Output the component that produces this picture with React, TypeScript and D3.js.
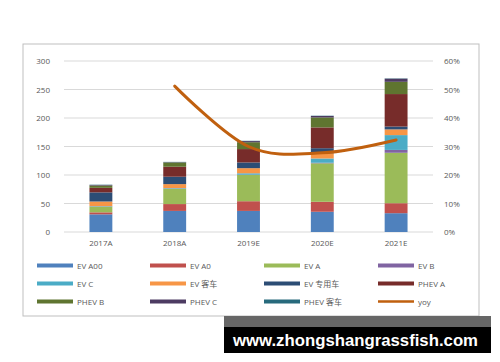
import React from "react";
import * as d3 from "d3";

const categories = ["2017A", "2018A", "2019E", "2020E", "2021E"];
const seriesNames = ["EV A00", "EV A0", "EV A", "EV B", "EV C", "EV 客车", "EV 专用车", "PHEV A", "PHEV B", "PHEV C", "PHEV 客车"];
const evA00 = [31, 37, 37, 35.5, 33];
const evA0 = [3.5, 12, 17, 17.5, 17.5];
const evA = [10, 26.5, 46, 67.5, 88.5];
const evB = [0.5, 0.5, 0.5, 1, 5];
const evC = [0.5, 1, 2.5, 7.5, 26];
const evBus = [8, 7, 9, 9, 10];
const evSpecial = [16, 13, 10, 9, 5];
const phevA = [8, 17.5, 23.5, 36.5, 57];
const phevB = [4, 7.5, 12, 17.5, 21.5];
const phevC = [1, 0.5, 2, 2.5, 5.5];
const phevBus = [0.5, 0.5, 0.5, 0.5, 0.5];
const yoy: (number | null)[] = [null, 0.512, 0.30, 0.278, 0.323];
const leftTicks = [0, 50, 100, 150, 200, 250, 300];
const rightTicks = [0, 0.1, 0.2, 0.3, 0.4, 0.5, 0.6];

const seriesValues = [evA00, evA0, evA, evB, evC, evBus, evSpecial, phevA, phevB, phevC, phevBus];
const colors = ["#4F81BD", "#C0504D", "#9BBB59", "#8064A2", "#4BACC6", "#F79646", "#2C4D75", "#772C2A", "#5F7530", "#4D3B62", "#276A7C"];
const yoyColor = "#C0600F";
const FONT = "'Open Sans', 'Noto Sans CJK SC', sans-serif";
const TXT = "#595959";

export default function App() {
  const x = d3.scaleBand().domain(categories).range([64, 433]).paddingInner(0.69).paddingOuter(0.345);
  const yL = d3.scaleLinear().domain([0, 300]).range([232, 61]);
  const yR = d3.scaleLinear().domain([0, 0.6]).range([232, 61]);

  const table = categories.map((c, i) => {
    const row: any = { cat: c };
    seriesNames.forEach((s, k) => (row[s] = seriesValues[k][i]));
    return row;
  });
  const stacked = d3.stack().keys(seriesNames)(table);

  const cx = (c: string) => (x(c) as number) + x.bandwidth() / 2;
  const linePts = categories
    .map((c, i) => ({ c, v: yoy[i] }))
    .filter((d) => d.v !== null) as { c: string; v: number }[];
  const line = d3
    .line<{ c: string; v: number }>()
    .x((d) => cx(d.c))
    .y((d) => yR(d.v))
    .curve(d3.curveCatmullRom.alpha(0));

  const legendItems = [...seriesNames.map((s, k) => ({ name: s, color: colors[k], line: false })), { name: "yoy", color: yoyColor, line: true }];
  const colX = [37, 150, 264, 378];
  const rowY = [265.5, 283.5, 301.5];

  return (
    <svg width={500} height={362} style={{ position: "absolute", left: 0, top: 0, background: "#fff" }} fontFamily={FONT}>
      <rect x={0} y={0} width={500} height={362} fill="#fff" />
      <rect x={23} y={44} width={456} height={272} fill="#fff" stroke="#BFBFBF" strokeWidth={1} />
      {leftTicks.map((t) => (
        <g key={"g" + t}>
          <line x1={64} x2={433} y1={yL(t)} y2={yL(t)} stroke="#D9D9D9" strokeWidth={1} />
          <text x={50} y={yL(t) + 3} textAnchor="end" fontSize={8} fill={TXT}>
            {t}
          </text>
        </g>
      ))}
      {rightTicks.map((t) => (
        <text key={"r" + t} x={444} y={yR(t) + 3} textAnchor="start" fontSize={8} fill={TXT}>
          {Math.round(t * 100) + "%"}
        </text>
      ))}
      {stacked.map((layer, k) => (
        <g key={"s" + k} fill={colors[k]}>
          {layer.map((d, i) => (
            <rect
              key={i}
              x={x(categories[i]) as number}
              width={x.bandwidth()}
              y={yL(d[1])}
              height={Math.max(0, yL(d[0]) - yL(d[1]))}
            />
          ))}
        </g>
      ))}
      {categories.map((c) => (
        <text key={"c" + c} x={cx(c)} y={246} textAnchor="middle" fontSize={8} fill={TXT}>
          {c}
        </text>
      ))}
      <path d={line(linePts) || ""} fill="none" stroke={yoyColor} strokeWidth={3} strokeLinecap="round" />
      {legendItems.map((it, i) => {
        const lx = colX[i % 4];
        const ly = rowY[Math.floor(i / 4)];
        return (
          <g key={"l" + i}>
            <rect x={lx} y={ly - (it.line ? 1.25 : 2)} width={36} height={it.line ? 2.5 : 4} fill={it.color} />
            <text x={lx + 40} y={ly + 3} fontSize={8} fill={TXT}>
              {it.name}
            </text>
          </g>
        );
      })}
      <rect x={224} y={316} width={267} height={11} fill="#666666" />
      <rect x={224} y={327} width={267} height={26} fill="#000000" />
      <text x={233} y={346} fontSize={17} fontWeight="bold" fill="#fff" fontFamily="'Liberation Sans', Arial, sans-serif" textLength={245} lengthAdjust="spacingAndGlyphs">
        www.zhongshangrassfish.com
      </text>
    </svg>
  );
}
